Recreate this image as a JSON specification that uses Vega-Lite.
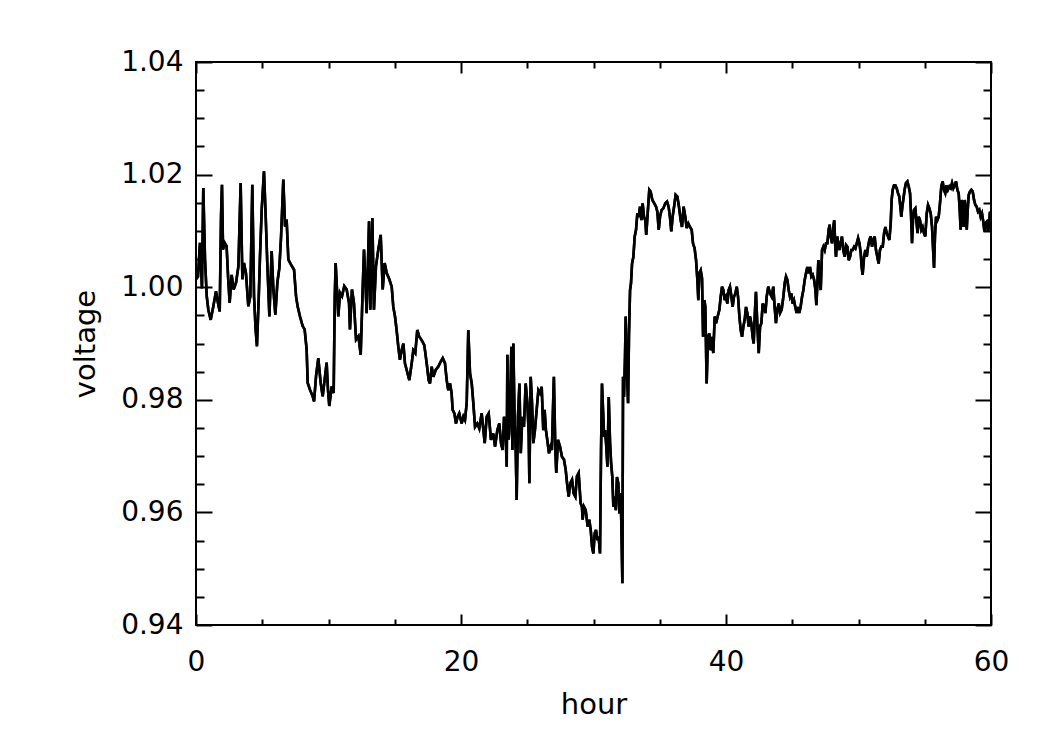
{
  "$schema": "https://vega.github.io/schema/vega-lite/v6.json",
  "width": 795,
  "height": 563,
  "autosize": "none",
  "padding": {"left": 196, "top": 62, "right": 59, "bottom": 125},
  "background": "white",
  "data": {"values": [
    {"h":0.00,"v":1.0014},{"h":0.15,"v":1.0019},{"h":0.30,"v":1.0079},{"h":0.45,"v":0.9998},{"h":0.55,"v":1.0176},{"h":0.68,"v":1.0049},{"h":0.81,"v":0.9984},{"h":0.93,"v":0.9960},{"h":1.11,"v":0.9942},{"h":1.31,"v":0.9966},{"h":1.51,"v":0.9993},{"h":1.66,"v":0.9972},{"h":1.79,"v":0.9957},{"h":1.89,"v":1.0126},{"h":1.96,"v":1.0182},{"h":2.04,"v":1.0067},{"h":2.16,"v":1.0079},{"h":2.31,"v":1.0073},{"h":2.42,"v":1.0019},{"h":2.54,"v":0.9972},{"h":2.69,"v":1.0022},{"h":2.84,"v":0.9996},{"h":3.02,"v":1.0008},{"h":3.20,"v":1.0037},{"h":3.37,"v":1.0185},{"h":3.50,"v":1.0014},{"h":3.62,"v":1.0043},{"h":3.77,"v":1.0025},{"h":3.95,"v":0.9966},{"h":4.10,"v":0.9984},{"h":4.25,"v":1.0182},{"h":4.38,"v":0.9984},{"h":4.50,"v":0.9925},{"h":4.60,"v":0.9895},{"h":4.73,"v":0.9978},{"h":4.83,"v":1.0055},{"h":4.96,"v":1.0138},{"h":5.13,"v":1.0206},{"h":5.26,"v":1.0126},{"h":5.38,"v":1.0043},{"h":5.54,"v":0.9948},{"h":5.71,"v":1.0064},{"h":5.84,"v":0.9996},{"h":5.99,"v":0.9951},{"h":6.14,"v":1.0008},{"h":6.29,"v":1.0034},{"h":6.42,"v":1.0090},{"h":6.59,"v":1.0191},{"h":6.72,"v":1.0108},{"h":6.84,"v":1.0120},{"h":6.97,"v":1.0049},{"h":7.17,"v":1.0040},{"h":7.40,"v":1.0031},{"h":7.55,"v":0.9984},{"h":7.67,"v":0.9966},{"h":7.85,"v":0.9948},{"h":8.05,"v":0.9931},{"h":8.20,"v":0.9925},{"h":8.35,"v":0.9889},{"h":8.43,"v":0.9830},{"h":8.60,"v":0.9818},{"h":8.81,"v":0.9806},{"h":8.91,"v":0.9797},{"h":9.06,"v":0.9842},{"h":9.23,"v":0.9874},{"h":9.41,"v":0.9830},{"h":9.56,"v":0.9806},{"h":9.71,"v":0.9836},{"h":9.86,"v":0.9866},{"h":9.96,"v":0.9818},{"h":10.06,"v":0.9789},{"h":10.24,"v":0.9824},{"h":10.39,"v":0.9812},{"h":10.47,"v":0.9978},{"h":10.54,"v":1.0043},{"h":10.64,"v":0.9996},{"h":10.74,"v":0.9948},{"h":10.87,"v":0.9990},{"h":11.02,"v":0.9984},{"h":11.19,"v":1.0002},{"h":11.37,"v":0.9996},{"h":11.55,"v":0.9972},{"h":11.62,"v":0.9925},{"h":11.77,"v":0.9996},{"h":11.92,"v":0.9972},{"h":12.08,"v":0.9907},{"h":12.26,"v":0.9913},{"h":12.43,"v":0.9880},{"h":12.58,"v":0.9996},{"h":12.68,"v":1.0067},{"h":12.81,"v":0.9996},{"h":12.88,"v":0.9954},{"h":13.06,"v":1.0117},{"h":13.16,"v":0.9960},{"h":13.31,"v":1.0123},{"h":13.43,"v":0.9960},{"h":13.58,"v":1.0037},{"h":13.76,"v":1.0067},{"h":13.94,"v":1.0093},{"h":14.09,"v":0.9996},{"h":14.24,"v":1.0043},{"h":14.39,"v":1.0025},{"h":14.59,"v":1.0014},
    {"h":14.77,"v":1.0001},{"h":14.89,"v":0.9965},{"h":15.02,"v":0.9948},{"h":15.14,"v":0.9924},{"h":15.27,"v":0.9894},{"h":15.39,"v":0.9871},{"h":15.52,"v":0.9888},{"h":15.65,"v":0.9900},{"h":15.77,"v":0.9865},{"h":15.90,"v":0.9853},{"h":16.10,"v":0.9835},{"h":16.28,"v":0.9865},{"h":16.40,"v":0.9888},{"h":16.55,"v":0.9883},{"h":16.70,"v":0.9924},{"h":16.85,"v":0.9912},{"h":17.03,"v":0.9906},{"h":17.23,"v":0.9897},{"h":17.41,"v":0.9865},{"h":17.56,"v":0.9835},{"h":17.66,"v":0.9829},{"h":17.79,"v":0.9859},{"h":17.91,"v":0.9841},{"h":18.09,"v":0.9853},{"h":18.29,"v":0.9859},{"h":18.47,"v":0.9868},{"h":18.62,"v":0.9874},{"h":18.79,"v":0.9865},{"h":18.92,"v":0.9835},{"h":19.04,"v":0.9817},{"h":19.17,"v":0.9829},{"h":19.29,"v":0.9812},{"h":19.37,"v":0.9782},{"h":19.50,"v":0.9776},{"h":19.62,"v":0.9758},{"h":19.75,"v":0.9770},{"h":19.87,"v":0.9776},{"h":20.05,"v":0.9758},{"h":20.18,"v":0.9770},{"h":20.30,"v":0.9764},{"h":20.43,"v":0.9794},{"h":20.55,"v":0.9924},{"h":20.68,"v":0.9847},{"h":20.81,"v":0.9829},{"h":20.93,"v":0.9794},{"h":21.06,"v":0.9752},{"h":21.23,"v":0.9758},{"h":21.38,"v":0.9749},{"h":21.56,"v":0.9776},{"h":21.69,"v":0.9746},{"h":21.79,"v":0.9723},{"h":21.94,"v":0.9770},{"h":22.09,"v":0.9776},{"h":22.26,"v":0.9729},{"h":22.44,"v":0.9740},{"h":22.57,"v":0.9717},{"h":22.74,"v":0.9746},{"h":22.89,"v":0.9758},{"h":23.02,"v":0.9723},{"h":23.14,"v":0.9711},{"h":23.25,"v":0.9770},{"h":23.37,"v":0.9740},{"h":23.45,"v":0.9681},{"h":23.50,"v":0.9880},{"h":23.60,"v":0.9729},{"h":23.70,"v":0.9770},{"h":23.80,"v":0.9894},{"h":23.88,"v":0.9711},{"h":23.95,"v":0.9900},{"h":24.05,"v":0.9758},{"h":24.13,"v":0.9711},{"h":24.20,"v":0.9622},{"h":24.30,"v":0.9770},{"h":24.41,"v":0.9829},{"h":24.51,"v":0.9705},{"h":24.63,"v":0.9770},{"h":24.75,"v":0.9752},{"h":24.88,"v":0.9829},{"h":25.01,"v":0.9794},{"h":25.11,"v":0.9740},{"h":25.16,"v":0.9652},{"h":25.26,"v":0.9841},{"h":25.36,"v":0.9794},{"h":25.46,"v":0.9723},{"h":25.58,"v":0.9746},{"h":25.71,"v":0.9782},{"h":25.84,"v":0.9817},{"h":25.96,"v":0.9812},{"h":26.09,"v":0.9823},{"h":26.21,"v":0.9746},{"h":26.31,"v":0.9782},{"h":26.41,"v":0.9746},{"h":26.51,"v":0.9729},{"h":26.64,"v":0.9705},{"h":26.76,"v":0.9717},{"h":26.86,"v":0.9711},{"h":26.94,"v":0.9782},{"h":27.01,"v":0.9841},{"h":27.12,"v":0.9711},{"h":27.19,"v":0.9670},{"h":27.32,"v":0.9729},{"h":27.47,"v":0.9717},{"h":27.62,"v":0.9699},{"h":27.77,"v":0.9694},{"h":27.90,"v":0.9676},{"h":28.03,"v":0.9646},{"h":28.13,"v":0.9628},{"h":28.25,"v":0.9652},{"h":28.38,"v":0.9658},{"h":28.50,"v":0.9634},{"h":28.63,"v":0.9628},{"h":28.75,"v":0.9664},{"h":28.88,"v":0.9670},
    {"h":29.03,"v":0.9616},{"h":29.13,"v":0.9610},{"h":29.18,"v":0.9587},{"h":29.28,"v":0.9610},{"h":29.41,"v":0.9604},{"h":29.56,"v":0.9575},{"h":29.68,"v":0.9587},{"h":29.79,"v":0.9569},{"h":29.89,"v":0.9539},{"h":29.99,"v":0.9527},{"h":30.09,"v":0.9563},{"h":30.19,"v":0.9569},{"h":30.29,"v":0.9551},{"h":30.39,"v":0.9557},{"h":30.49,"v":0.9527},{"h":30.57,"v":0.9711},{"h":30.64,"v":0.9829},{"h":30.72,"v":0.9782},{"h":30.80,"v":0.9734},{"h":30.87,"v":0.9746},{"h":30.95,"v":0.9723},{"h":31.05,"v":0.9681},{"h":31.15,"v":0.9805},{"h":31.25,"v":0.9723},{"h":31.33,"v":0.9687},{"h":31.42,"v":0.9663},{"h":31.50,"v":0.9610},{"h":31.60,"v":0.9628},{"h":31.68,"v":0.9604},{"h":31.77,"v":0.9663},{"h":31.87,"v":0.9652},{"h":31.95,"v":0.9598},{"h":32.05,"v":0.9634},{"h":32.10,"v":0.9581},{"h":32.18,"v":0.9474},{"h":32.23,"v":0.9841},{"h":32.30,"v":0.9805},{"h":32.38,"v":0.9877},{"h":32.43,"v":0.9948},{"h":32.50,"v":0.9865},{"h":32.61,"v":0.9794},{"h":32.68,"v":0.9918},{"h":32.76,"v":0.9995},{"h":32.83,"v":1.0007},{"h":32.91,"v":1.0042},{"h":33.01,"v":1.0054},{"h":33.11,"v":1.0090},{"h":33.21,"v":1.0102},{"h":33.31,"v":1.0131},{"h":33.41,"v":1.0125},{"h":33.51,"v":1.0143},{"h":33.61,"v":1.0119},{"h":33.71,"v":1.0149},{"h":33.81,"v":1.0125},{"h":33.91,"v":1.0119},{"h":33.98,"v":1.0093},{"h":34.09,"v":1.0131},{"h":34.21,"v":1.0173},{"h":34.31,"v":1.0170},{"h":34.44,"v":1.0155},{"h":34.59,"v":1.0149},{"h":34.72,"v":1.0143},{"h":34.82,"v":1.0134},{"h":34.92,"v":1.0102},{"h":35.02,"v":1.0125},{"h":35.14,"v":1.0137},{"h":35.27,"v":1.0140},{"h":35.42,"v":1.0149},{"h":35.55,"v":1.0152},{"h":35.67,"v":1.0143},{"h":35.77,"v":1.0125},{"h":35.87,"v":1.0099},{"h":35.97,"v":1.0125},{"h":36.10,"v":1.0146},{"h":36.20,"v":1.0164},{"h":36.33,"v":1.0161},{"h":36.45,"v":1.0143},{"h":36.58,"v":1.0119},{"h":36.68,"v":1.0107},{"h":36.80,"v":1.0143},{"h":36.93,"v":1.0125},{"h":37.03,"v":1.0105},{"h":37.16,"v":1.0113},{"h":37.28,"v":1.0107},{"h":37.41,"v":1.0102},{"h":37.51,"v":1.0078},{"h":37.63,"v":1.0069},{"h":37.74,"v":1.0048},{"h":37.84,"v":1.0013},{"h":37.91,"v":0.9977},{"h":37.99,"v":1.0025},{"h":38.09,"v":1.0030},{"h":38.19,"v":1.0016},{"h":38.27,"v":0.9912},{"h":38.37,"v":0.9977},{"h":38.44,"v":0.9965},{"h":38.54,"v":0.9829},{"h":38.64,"v":0.9912},
    {"h":38.74,"v":0.9918},{"h":38.84,"v":0.9888},{"h":38.94,"v":0.9912},{"h":39.04,"v":0.9883},{"h":39.15,"v":0.9948},{"h":39.25,"v":0.9936},{"h":39.37,"v":0.9948},{"h":39.50,"v":0.9960},{"h":39.60,"v":0.9983},{"h":39.70,"v":1.0001},{"h":39.80,"v":0.9995},{"h":39.90,"v":0.9977},{"h":40.00,"v":0.9983},{"h":40.10,"v":0.9971},{"h":40.20,"v":0.9995},{"h":40.30,"v":1.0001},{"h":40.41,"v":0.9983},{"h":40.50,"v":0.9965},{"h":40.60,"v":0.9983},{"h":40.71,"v":0.9989},{"h":40.81,"v":1.0001},{"h":40.91,"v":0.9983},{"h":41.01,"v":0.9948},{"h":41.11,"v":0.9924},{"h":41.21,"v":0.9912},{"h":41.31,"v":0.9930},{"h":41.41,"v":0.9942},{"h":41.51,"v":0.9965},{"h":41.61,"v":0.9954},{"h":41.71,"v":0.9930},{"h":41.81,"v":0.9948},{"h":41.91,"v":0.9936},{"h":42.01,"v":0.9912},{"h":42.09,"v":0.9900},{"h":42.19,"v":0.9960},{"h":42.26,"v":0.9992},{"h":42.36,"v":0.9936},{"h":42.47,"v":0.9883},{"h":42.57,"v":0.9930},{"h":42.67,"v":0.9936},{"h":42.77,"v":0.9971},{"h":42.87,"v":0.9965},{"h":42.97,"v":0.9954},{"h":43.07,"v":0.9983},{"h":43.19,"v":1.0001},{"h":43.32,"v":0.9989},{"h":43.45,"v":0.9983},{"h":43.57,"v":1.0001},{"h":43.67,"v":0.9965},{"h":43.77,"v":0.9936},{"h":43.87,"v":0.9960},{"h":43.98,"v":0.9971},{"h":44.08,"v":0.9954},{"h":44.20,"v":0.9960},{"h":44.33,"v":0.9983},{"h":44.43,"v":1.0007},{"h":44.53,"v":1.0019},{"h":44.63,"v":1.0013},{"h":44.73,"v":0.9995},{"h":44.83,"v":0.9983},{"h":44.93,"v":0.9989},{"h":45.03,"v":0.9971},{"h":45.13,"v":0.9977},{"h":45.23,"v":0.9965},{"h":45.33,"v":0.9954},{"h":45.43,"v":0.9965},{"h":45.53,"v":0.9954},{"h":45.63,"v":0.9965},{"h":45.74,"v":0.9983},{"h":45.84,"v":0.9995},{"h":45.94,"v":1.0013},{"h":46.04,"v":1.0025},{"h":46.14,"v":1.0036},{"h":46.24,"v":1.0025},{"h":46.34,"v":1.0036},{"h":46.44,"v":1.0019},{"h":46.54,"v":1.0022},{"h":46.65,"v":1.0013},{"h":46.75,"v":0.9995},{"h":46.82,"v":0.9968},{"h":46.90,"v":1.0007},{"h":46.97,"v":1.0048},{"h":47.05,"v":1.0019},{"h":47.15,"v":0.9995},{"h":47.25,"v":1.0066},{"h":47.35,"v":1.0072},{"h":47.45,"v":1.0066},{"h":47.55,"v":1.0078},{"h":47.65,"v":1.0078},{"h":47.75,"v":1.0102},{"h":47.82,"v":1.0111},{"h":47.90,"v":1.0090},{"h":48.00,"v":1.0078},{"h":48.10,"v":1.0107},{"h":48.17,"v":1.0119},{"h":48.25,"v":1.0072},{"h":48.30,"v":1.0054},{"h":48.40,"v":1.0090},{"h":48.50,"v":1.0072},
    {"h":48.55,"v":1.0066},{"h":48.65,"v":1.0078},{"h":48.75,"v":1.0090},{"h":48.85,"v":1.0066},{"h":48.96,"v":1.0054},{"h":49.06,"v":1.0075},{"h":49.16,"v":1.0072},{"h":49.26,"v":1.0048},{"h":49.36,"v":1.0054},{"h":49.46,"v":1.0066},{"h":49.56,"v":1.0066},{"h":49.67,"v":1.0072},{"h":49.77,"v":1.0069},{"h":49.87,"v":1.0078},{"h":49.97,"v":1.0087},{"h":50.07,"v":1.0078},{"h":50.17,"v":1.0060},{"h":50.24,"v":1.0036},{"h":50.31,"v":1.0022},{"h":50.42,"v":1.0054},{"h":50.52,"v":1.0066},{"h":50.62,"v":1.0054},{"h":50.72,"v":1.0072},{"h":50.82,"v":1.0084},{"h":50.92,"v":1.0090},{"h":51.02,"v":1.0072},{"h":51.12,"v":1.0084},{"h":51.22,"v":1.0090},{"h":51.32,"v":1.0066},{"h":51.42,"v":1.0054},{"h":51.52,"v":1.0042},{"h":51.62,"v":1.0066},{"h":51.72,"v":1.0072},{"h":51.83,"v":1.0072},{"h":51.93,"v":1.0096},{"h":52.03,"v":1.0107},{"h":52.13,"v":1.0096},{"h":52.23,"v":1.0090},{"h":52.33,"v":1.0084},{"h":52.43,"v":1.0113},{"h":52.50,"v":1.0155},{"h":52.58,"v":1.0173},{"h":52.68,"v":1.0181},{"h":52.78,"v":1.0181},{"h":52.88,"v":1.0176},{"h":52.98,"v":1.0167},{"h":53.08,"v":1.0161},{"h":53.16,"v":1.0143},{"h":53.23,"v":1.0125},{"h":53.31,"v":1.0143},{"h":53.38,"v":1.0155},{"h":53.48,"v":1.0173},{"h":53.58,"v":1.0185},{"h":53.69,"v":1.0188},{"h":53.79,"v":1.0179},{"h":53.89,"v":1.0167},{"h":53.96,"v":1.0131},{"h":54.04,"v":1.0078},{"h":54.11,"v":1.0119},{"h":54.19,"v":1.0137},{"h":54.29,"v":1.0140},{"h":54.39,"v":1.0113},{"h":54.46,"v":1.0096},{"h":54.54,"v":1.0125},{"h":54.64,"v":1.0119},{"h":54.74,"v":1.0102},{"h":54.84,"v":1.0107},{"h":54.94,"v":1.0096},{"h":55.04,"v":1.0090},{"h":55.15,"v":1.0131},{"h":55.25,"v":1.0146},{"h":55.35,"v":1.0140},{"h":55.45,"v":1.0131},{"h":55.55,"v":1.0107},{"h":55.62,"v":1.0072},{"h":55.70,"v":1.0034},{"h":55.77,"v":1.0090},{"h":55.85,"v":1.0125},{"h":55.95,"v":1.0119},{"h":56.05,"v":1.0125},{"h":56.15,"v":1.0149},{"h":56.25,"v":1.0179},{"h":56.35,"v":1.0188},{"h":56.45,"v":1.0173},{"h":56.55,"v":1.0167},{"h":56.65,"v":1.0181},{"h":56.75,"v":1.0173},{"h":56.86,"v":1.0179},{"h":56.96,"v":1.0176},{"h":57.06,"v":1.0185},{"h":57.16,"v":1.0176},{"h":57.26,"v":1.0181},{"h":57.36,"v":1.0188},{"h":57.46,"v":1.0173},{"h":57.56,"v":1.0167},{"h":57.64,"v":1.0137},{"h":57.71,"v":1.0102},{"h":57.79,"v":1.0155},{"h":57.87,"v":1.0137},{"h":57.94,"v":1.0107},{"h":58.02,"v":1.0155},{"h":58.09,"v":1.0137},{"h":58.17,"v":1.0102},{"h":58.24,"v":1.0137},{"h":58.32,"v":1.0164},{"h":58.42,"v":1.0170},{"h":58.52,"v":1.0173},{"h":58.62,"v":1.0170},{"h":58.72,"v":1.0155},{"h":58.82,"v":1.0146},{"h":58.92,"v":1.0143},{"h":59.02,"v":1.0134},{"h":59.12,"v":1.0137},{"h":59.22,"v":1.0125},{"h":59.32,"v":1.0131},{"h":59.42,"v":1.0116},{"h":59.50,"v":1.0099},{"h":59.57,"v":1.0113},{"h":59.67,"v":1.0116},{"h":59.77,"v":1.0099},{"h":59.85,"v":1.0107},{"h":59.92,"v":1.0134},{"h":59.97,"v":1.0131}
  ]},
  "layer": [
    {
      "mark": {"type": "line", "color": "black", "strokeWidth": 2.6, "strokeJoin": "miter", "clip": true},
      "encoding": {
        "x": {"field": "h", "type": "quantitative",
          "scale": {"domain": [0, 60], "nice": false, "zero": false},
          "axis": {"orient": "bottom", "title": "hour",
            "values": [0,5,10,15,20,25,30,35,40,45,50,55,60],
            "labelExpr": "datum.value % 20 === 0 ? datum.label : ''",
            "tickSize": {"condition": {"test": "datum.value % 20 === 0", "value": -11}, "value": -6},
            "labelPadding": 34, "titlePadding": 9}},
        "y": {"field": "v", "type": "quantitative",
          "scale": {"domain": [0.94, 1.04], "nice": false, "zero": false},
          "axis": {"orient": "left", "title": "voltage",
            "values": [0.94,0.945,0.95,0.955,0.96,0.965,0.97,0.975,0.98,0.985,0.99,0.995,1.0,1.005,1.01,1.015,1.02,1.025,1.03,1.035,1.04],
            "labelExpr": "round(datum.value*1000) % 20 === 0 ? format(datum.value, '.2f') : ''",
            "tickSize": {"condition": {"test": "round(datum.value*1000) % 20 === 0", "value": -16}, "value": -8},
            "labelPadding": 29, "titlePadding": 20}}
      }
    },
    {
      "mark": {"type": "line", "color": "black", "strokeWidth": 2.6, "strokeJoin": "miter", "clip": true},
      "encoding": {
        "x": {"field": "h", "type": "quantitative",
          "axis": {"orient": "top", "title": null, "labels": false,
            "values": [0,5,10,15,20,25,30,35,40,45,50,55,60],
            "tickSize": {"condition": {"test": "datum.value % 20 === 0", "value": -11}, "value": -6}}},
        "y": {"field": "v", "type": "quantitative",
          "axis": {"orient": "right", "title": null, "labels": false,
            "values": [0.94,0.945,0.95,0.955,0.96,0.965,0.97,0.975,0.98,0.985,0.99,0.995,1.0,1.005,1.01,1.015,1.02,1.025,1.03,1.035,1.04],
            "tickSize": {"condition": {"test": "round(datum.value*1000) % 20 === 0", "value": -16}, "value": -8}}}
      }
    }
  ],
  "resolve": {"axis": {"x": "independent", "y": "independent"}},
  "config": {
    "font": "DejaVu Sans",
    "view": {"stroke": "black", "strokeWidth": 2},
    "axis": {
      "grid": false, "domain": false,
      "tickColor": "black", "tickWidth": 2,
      "labelFont": "DejaVu Sans", "labelFontSize": 28, "labelColor": "black", "labelFontWeight": "normal",
      "titleFont": "DejaVu Sans", "titleFontSize": 29, "titleColor": "black", "titleFontWeight": "normal",
      "labelOverlap": false, "labelFlush": false, "labelBound": false
    }
  }
}
